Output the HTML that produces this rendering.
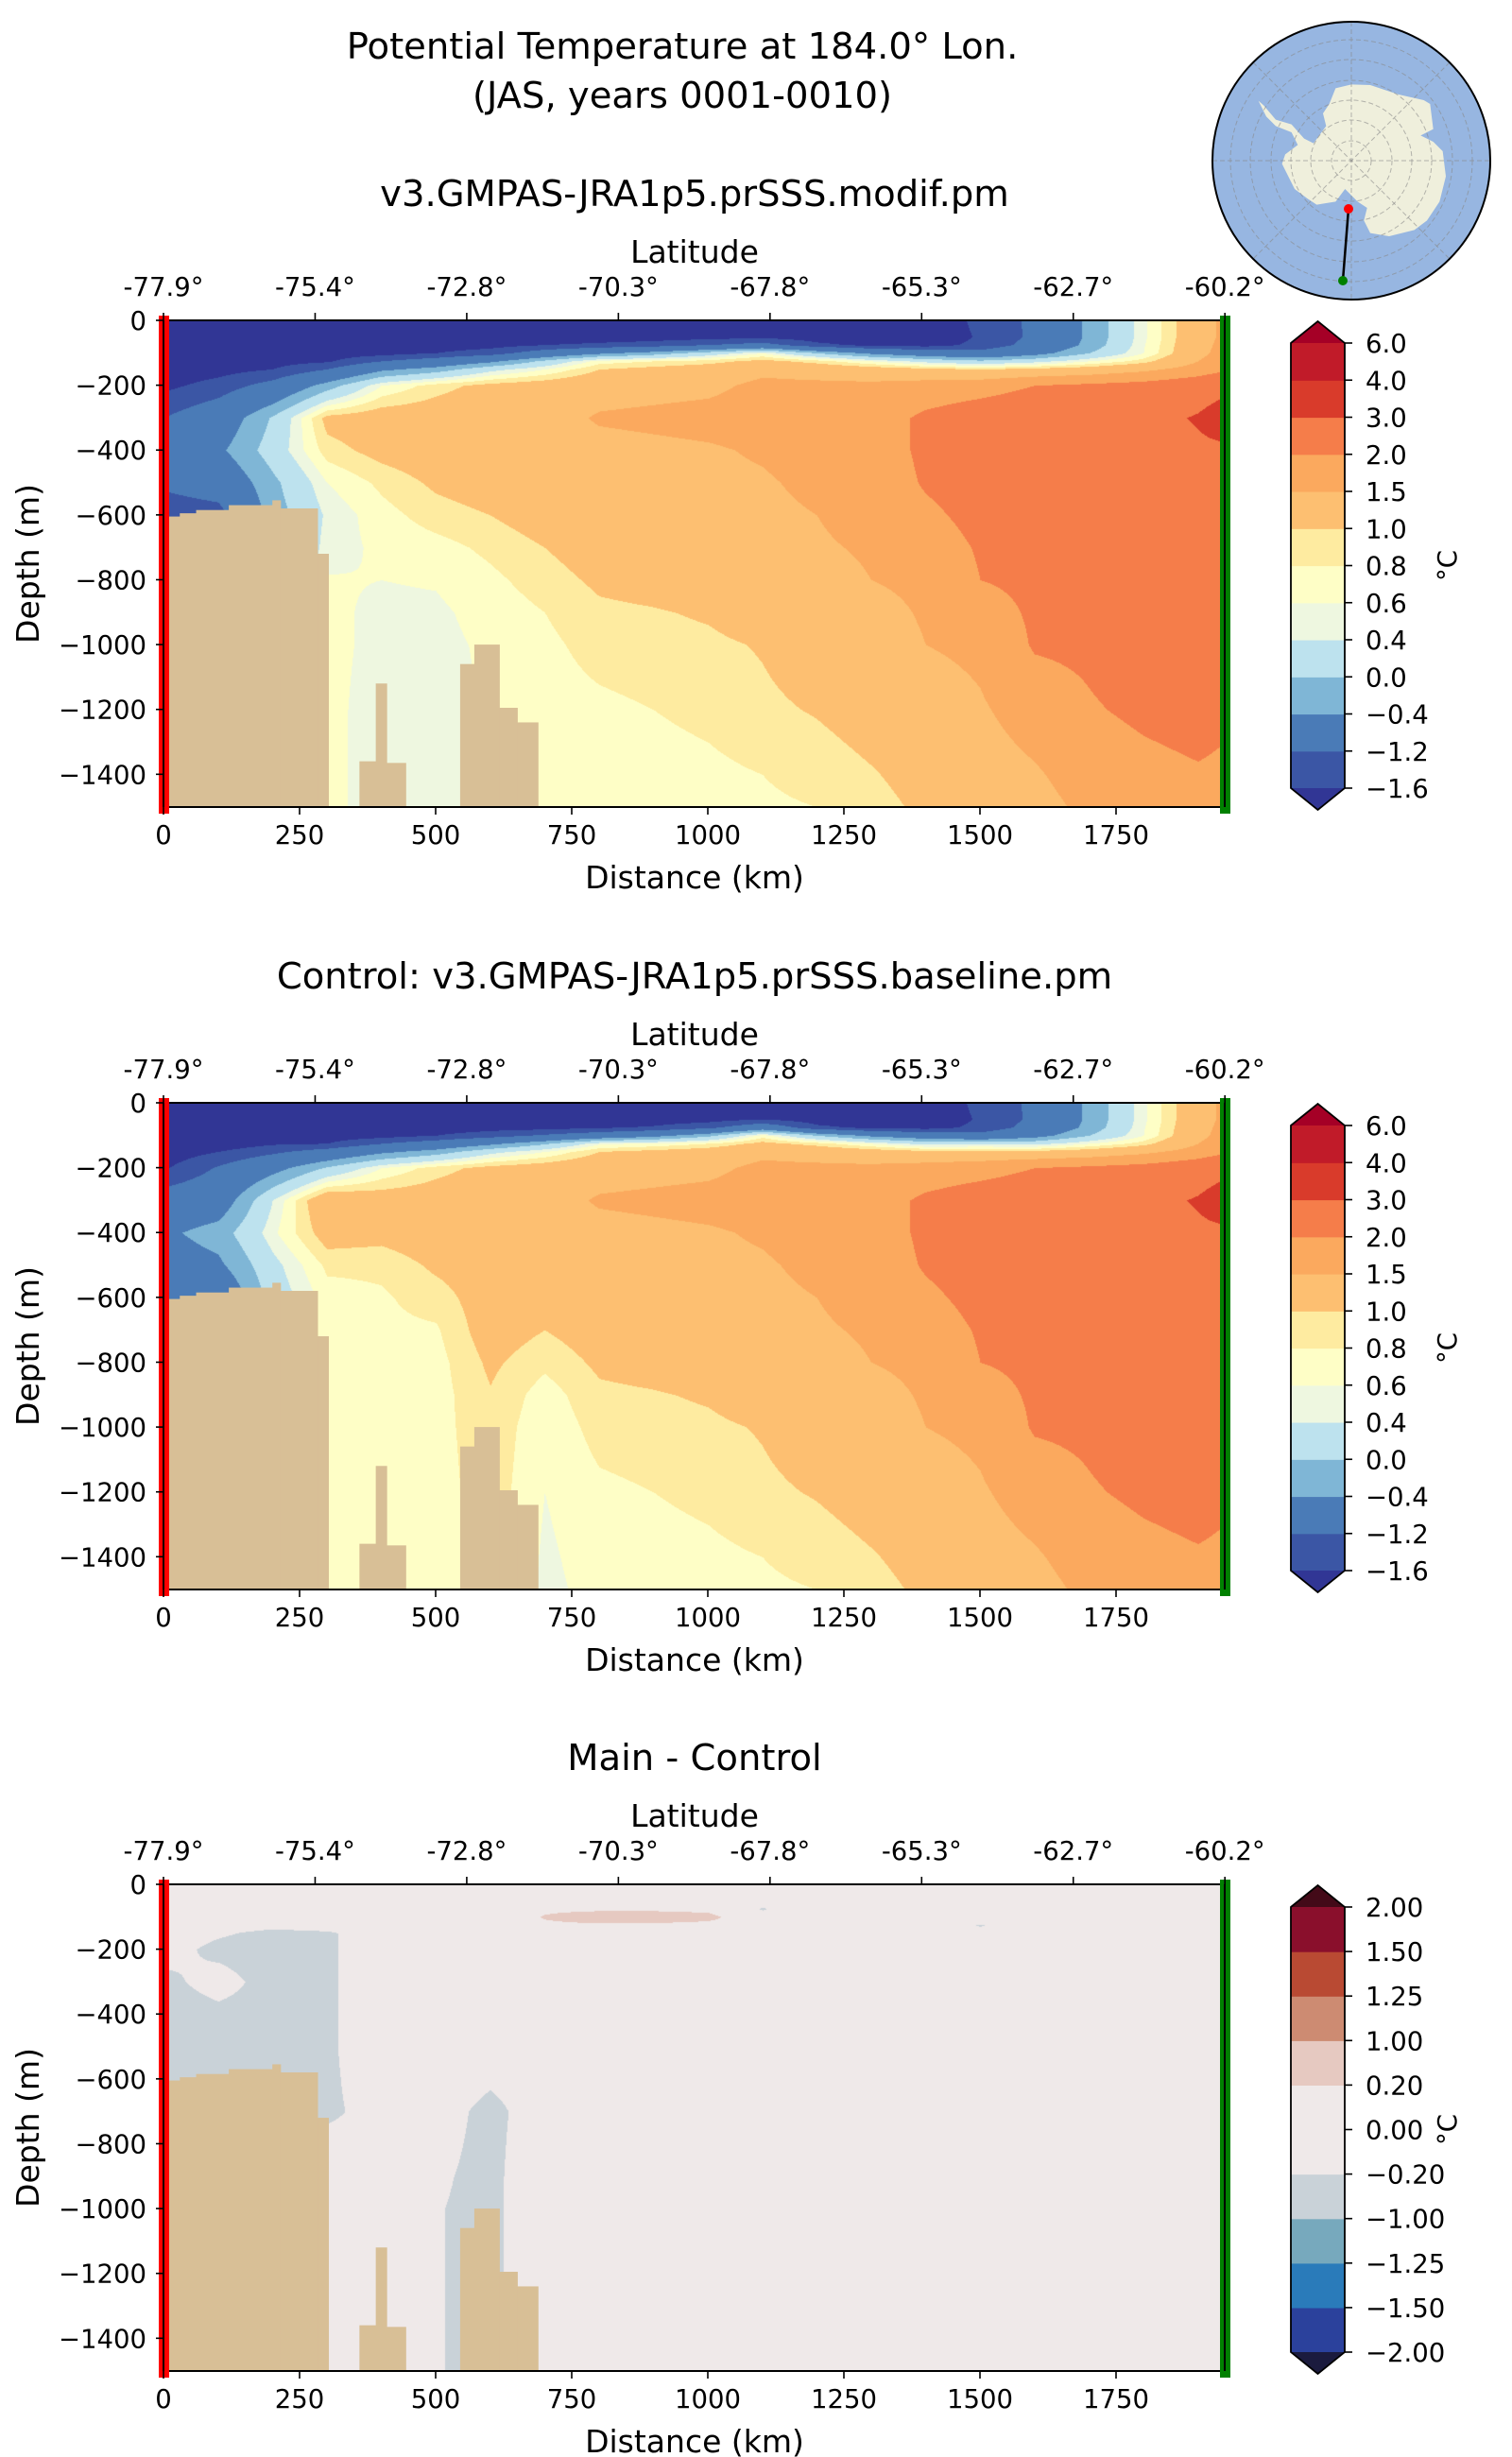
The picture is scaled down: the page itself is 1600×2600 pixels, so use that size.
<!DOCTYPE html>
<html><head><meta charset="utf-8"><title>Potential Temperature section</title>
<style>
html,body{margin:0;padding:0;background:#fff;}
body{width:1600px;height:2600px;position:relative;overflow:hidden;font-family:"DejaVu Sans","Liberation Sans",sans-serif;}
canvas{position:absolute;z-index:0;}
#fig{position:absolute;left:0;top:0;z-index:1;}
text{font-family:"DejaVu Sans","Liberation Sans",sans-serif;fill:#000;}
</style></head>
<body>
<svg id="fig" width="1600" height="2600" viewBox="0 0 1600 2600" xmlns="http://www.w3.org/2000/svg">
<text x="722" y="62" font-size="38.5" text-anchor="middle">Potential Temperature at 184.0° Lon.</text>
<text x="722" y="114" font-size="38.5" text-anchor="middle">(JAS, years 0001-0010)</text>
<g id="map"></g>
</svg>
<script>
// ---------------- data ----------------
const depthRows = [0,50,75,100,125,150,200,300,400,500,600,700,800,900,1000,1200,1400,1500];
const distCols = [0,100,200,300,400,500,600,700,800,900,1000,1100,1200,1300,1400,1500,1600,1700,1800,1900,1950];
const mainTemp = [
[-1.9,-1.9,-1.9,-1.9,-1.9,-1.85,-1.7,-1.2,-0.9,-1.1,-1.5,-1.5,-1.5,-1.5,-1.5,-1.5,-1.5,-1.5],
[-1.9,-1.9,-1.9,-1.9,-1.9,-1.75,-1.45,-0.8,-0.5,-0.9,-1.4,-1.4,-1.4,-1.4,-1.4,-1.4,-1.4,-1.4],
[-1.9,-1.9,-1.9,-1.85,-1.75,-1.6,-1.0,0.05,0.2,-0.1,-0.2,-0.2,-0.2,-0.2,-0.2,-0.2,-0.2,-0.2],
[-1.9,-1.9,-1.9,-1.8,-1.65,-1.2,-0.2,1.1,0.9,0.6,0.45,0.5,0.62,0.65,0.65,0.65,0.65,0.65],
[-1.9,-1.9,-1.85,-1.75,-1.2,-0.5,0.6,1.2,1.1,0.85,0.72,0.65,0.6,0.55,0.55,0.52,0.52,0.52],
[-1.9,-1.9,-1.8,-1.6,-0.9,-0.2,0.9,1.2,1.2,1.05,0.9,0.72,0.62,0.56,0.54,0.52,0.52,0.52],
[-1.9,-1.9,-1.75,-1.4,-0.5,0.3,1.1,1.25,1.25,1.15,1.0,0.85,0.75,0.68,0.64,0.62,0.62,0.62],
[-1.9,-1.9,-1.6,-0.9,0.1,0.6,1.2,1.3,1.3,1.25,1.15,1.0,0.9,0.8,0.75,0.7,0.66,0.64],
[-1.9,-1.85,-1.5,-0.5,0.7,1.0,1.3,1.55,1.35,1.3,1.25,1.15,1.05,0.95,0.88,0.75,0.7,0.68],
[-1.9,-1.8,-1.4,-0.2,0.8,1.1,1.35,1.6,1.4,1.35,1.3,1.2,1.1,0.98,0.92,0.8,0.72,0.7],
[-1.9,-1.75,-1.2,0.2,0.9,1.2,1.4,1.65,1.45,1.4,1.35,1.3,1.2,1.03,0.95,0.85,0.75,0.72],
[-1.9,-1.7,-1.0,0.6,1.1,1.4,1.6,1.7,1.55,1.45,1.4,1.35,1.25,1.15,1.02,0.95,0.8,0.76],
[-1.9,-1.8,-1.5,0.0,0.9,1.3,1.6,1.7,1.7,1.6,1.5,1.45,1.35,1.25,1.15,1.02,0.88,0.8],
[-1.9,-1.85,-1.7,-0.5,0.6,1.2,1.6,1.75,1.75,1.7,1.65,1.55,1.5,1.35,1.25,1.12,0.98,0.92],
[-1.9,-1.9,-1.75,-0.8,0.3,1.1,1.7,2.1,2.1,2.05,1.9,1.75,1.6,1.55,1.5,1.25,1.1,1.05],
[-1.5,-1.55,-1.5,-1.0,0.1,1.0,1.8,2.3,2.3,2.25,2.15,2.05,2.0,1.8,1.6,1.45,1.3,1.2],
[-1.1,-1.1,-1.0,-0.6,0.3,1.1,2.0,2.4,2.4,2.35,2.3,2.2,2.1,2.07,2.05,1.7,1.45,1.35],
[-0.3,-0.3,-0.25,0.0,0.6,1.2,2.1,2.5,2.5,2.45,2.4,2.35,2.3,2.2,2.1,1.95,1.7,1.6],
[0.55,0.55,0.58,0.6,0.9,1.4,2.2,2.6,2.6,2.55,2.5,2.45,2.4,2.35,2.3,2.1,1.85,1.75],
[1.3,1.3,1.32,1.35,1.5,1.7,2.4,3.1,2.8,2.7,2.6,2.55,2.5,2.45,2.4,2.2,1.95,1.85],
[1.6,1.6,1.65,1.7,1.8,1.9,2.7,3.6,2.8,2.8,2.7,2.6,2.55,2.5,2.45,2.1,1.9,1.8]
];
// main minus control
const diffTemp = [
[0,0,0,0,0,0,-0.05,-0.3,-0.4,-0.4,-0.4,-0.3,-0.3,-0.3,-0.3,-0.3,-0.3,-0.3],
[0,0,0,0,-0.05,-0.15,-0.3,-0.05,-0.3,-0.4,-0.4,-0.3,-0.3,-0.3,-0.3,-0.3,-0.3,-0.3],
[0,0,0,0,-0.1,-0.3,-0.4,-0.35,-0.35,-0.4,-0.4,-0.3,-0.3,-0.3,-0.3,-0.3,-0.3,-0.3],
[0,0,0,0,-0.05,-0.25,-0.25,-0.25,-0.25,-0.25,-0.25,-0.25,-0.12,-0.12,-0.12,-0.12,-0.12,-0.12],
[0,0,0,0,0,0,0,0,0,0,-0.05,-0.1,-0.12,-0.12,-0.12,-0.12,-0.12,-0.12],
[0,0,0,0,0,0,0,0,0,0,0,-0.05,-0.1,-0.15,-0.18,-0.18,-0.18,-0.18],
[0,0,0,0,0,0,0,0,0,0,-0.15,-0.3,-0.3,-0.3,-0.3,-0.3,-0.3,-0.3],
[0,0,0.15,0.22,0.15,0,0,0,0,0,0,0,0.05,0.1,0.1,0.1,0.1,0.1],
[0,0,0.15,0.35,0.15,0,0,0,0,0,0,0,0,0,0,0,0,0],
[0,0,0.15,0.35,0.15,0,0,0,0,0,0,0,0,0,0,0,0,0],
[0,0,0.12,0.3,0.1,0,0,0,0,0,0,0,0,0,0,0,0,0],
[0,-0.1,-0.22,-0.1,0,0,0,0,0,0,0,0,0,0,0,0,0,0],
[0,0,0,0,0,0,0,0,0,0,0,0,0,0,0,0,0,0],
[0,0,0,0,0,0,0,0,0,0,0,0,0,0,0,0,0,0],
[0,0,0,0,0,0,0,0,0,0,0,0,0,0,0,0,0,0],
[0,0,0,0,-0.22,-0.1,0,0,0,0,0,0,0,0,0,0,0,0],
[0,0,0,0,0,0,0,0,0,0,0,0,0,0,0,0,0,0],
[0,0,0,0,0,0,0,0,0,0,0,0,0,0,0,0,0,0],
[0,0,0,0,0,0,0,0,0,0,0,0,0,0,0,0,0,0],
[0,0,0,0,0,0,0,0,0,0,0,0,0,0,0,0,0,0],
[0,0,0,0,0,0,0,0,0,0,0,0,0,0,0,0,0,0]
];
const landStart = [0,30,60,120,200,215,283,360,390,410,545,571,617,650];
const landEnd   = [30,60,120,200,215,283,303,390,410,445,571,617,650,688];
const landTop   = [605,595,585,570,555,580,720,1360,1120,1365,1060,1000,1195,1240];
const tempLevels = [-1.6,-1.2,-0.4,0,0.4,0.6,0.8,1.0,1.5,2.0,3.0,4.0,6.0];
const tempLabels = ['\u22121.6','\u22121.2','\u22120.4','0.0','0.4','0.6','0.8','1.0','1.5','2.0','3.0','4.0','6.0'];
const diffLevels = [-2,-1.5,-1.25,-1,-0.2,0,0.2,1,1.25,1.5,2];
const diffLabels = ['\u22122.00','\u22121.50','\u22121.25','\u22121.00','\u22120.20','0.00','0.20','1.00','1.25','1.50','2.00'];
const distTicks = [0,250,500,750,1000,1250,1500,1750];
const depthTicks = [0,200,400,600,800,1000,1200,1400];
const latLabels = ['-77.9°','-75.4°','-72.8°','-70.3°','-67.8°','-65.3°','-62.7°','-60.2°'];

// colours (styles, not data)
const tempColors = ['#313695','#3b56a5','#4a7bb7','#7fb6d6','#bde2ee','#eef7e0','#fefec6','#feeba0','#fdbf71','#fba95e','#f57d4a','#d93b2b','#c11b29','#a50026'];
const diffColors = ['#1b1b3e','#2b419c','#2a7bba','#77a9bd','#c9d2d8','#efe9e9','#efe9e9','#e6c9c1','#cd8b72','#b94a33','#8a0f2c','#430a18'];
const LAND = '#d8bf96';

// ---------------- geometry ----------------
const X0 = 173, PXKM = 0.576, MAXKM = 1950, PXM = 0.3431, DMAX = 1500;
const xScale = km => X0 + km * PXKM;
const PW = Math.round(MAXKM * PXKM), PH = Math.round(DMAX * PXM);
const NS = 'http://www.w3.org/2000/svg';
const svg = document.getElementById('fig');
function mk(tag, attrs, parent){ const el=document.createElementNS(NS,tag); for(const k in attrs) el.setAttribute(k,attrs[k]); (parent||svg).appendChild(el); return el; }

function findIdx(arr, v){ let i=0; while(i<arr.length-2 && v>arr[i+1]) i++; return i; }
function sample(grid, km, d){
  const i=findIdx(distCols,km), j=findIdx(depthRows,d);
  let tx=(km-distCols[i])/(distCols[i+1]-distCols[i]); tx=Math.max(0,Math.min(1,tx));
  let ty=(d-depthRows[j])/(depthRows[j+1]-depthRows[j]); ty=Math.max(0,Math.min(1,ty));
  const a=grid[i][j],b=grid[i+1][j],c=grid[i][j+1],e=grid[i+1][j+1];
  return (a*(1-tx)+b*tx)*(1-ty)+(c*(1-tx)+e*tx)*ty;
}
function hex(c){ return [parseInt(c.substr(1,2),16),parseInt(c.substr(3,2),16),parseInt(c.substr(5,2),16)]; }

const controlTemp = mainTemp.map((col,i)=>col.map((v,j)=>v - diffTemp[i][j]));

const panels = [
 {off:0, title:'v3.GMPAS-JRA1p5.prSSS.modif.pm', grid:mainTemp, levels:tempLevels, colors:tempColors, labels:tempLabels, key:'main'},
 {off:828, title:'Control: v3.GMPAS-JRA1p5.prSSS.baseline.pm', grid:controlTemp, levels:tempLevels, colors:tempColors, labels:tempLabels, key:'control'},
 {off:1655, title:'Main - Control', grid:diffTemp, levels:diffLevels, colors:diffColors, labels:diffLabels, key:'difference'}
];

panels.forEach(p=>{
  const top = 339 + p.off;
  const yScale = d => top + d * PXM;
  const cv = document.createElement('canvas');
  cv.width = PW; cv.height = PH;
  cv.style.left = X0+'px'; cv.style.top = top+'px';
  
  
  document.body.appendChild(cv);
  const ctx = cv.getContext('2d'); const img = ctx.createImageData(PW,PH);
  const rgb = p.colors.map(hex);
  for(let py=0;py<PH;py++){
    const d = py/PXM;
    for(let px=0;px<PW;px++){
      const v = sample(p.grid, px/PXKM, d);
      let k;
      if(v<p.levels[0]) k=0; else { k=p.levels.length; for(let q=0;q<p.levels.length-1;q++){ if(v<p.levels[q+1]){k=q+1;break;} } }
      const c = rgb[k]; const o=(py*PW+px)*4;
      img.data[o]=c[0]; img.data[o+1]=c[1]; img.data[o+2]=c[2]; img.data[o+3]=255;
    }
  }
  ctx.putImageData(img,0,0);

  const g = mk('g',{});
  
  
  for(let s=0;s<landStart.length;s++){
    const r = mk('rect',{x:xScale(landStart[s]),y:yScale(landTop[s]),width:(landEnd[s]-landStart[s])*PXKM+0.5,height:yScale(DMAX)-yScale(landTop[s]),fill:LAND},g);
    
    
  }
  const fr = mk('rect',{x:X0,y:top,width:PW,height:PH,fill:'none',stroke:'#000','stroke-width':2},g);
  
  
  const rb = mk('rect',{x:168,y:top-5,width:11,height:PH+12,fill:'#ff0000'},g);
  
  
  mk('line',{x1:X0,y1:top,x2:X0,y2:top+PH,stroke:'#000','stroke-width':2},g);
  const gb = mk('rect',{x:1291,y:top-5,width:11,height:PH+12,fill:'#008000'},g);
  
  
  mk('line',{x1:X0+PW,y1:top,x2:X0+PW,y2:top+PH,stroke:'#000','stroke-width':2},g);
  distTicks.forEach(t=>{
    mk('line',{x1:xScale(t),y1:top+PH,x2:xScale(t),y2:top+PH+8,stroke:'#000','stroke-width':1.6},g);
    const tx = mk('text',{x:xScale(t),y:top+PH+39,'font-size':27.5,'text-anchor':'middle'},g);
    tx.textContent = String(t);
    
    
  });
  const xl = mk('text',{x:735,y:top+PH+86,'font-size':33,'text-anchor':'middle'},g);
  xl.textContent='Distance (km)';
  
  
  depthTicks.forEach(t=>{
    mk('line',{x1:X0-8,y1:yScale(t),x2:X0,y2:yScale(t),stroke:'#000','stroke-width':1.6},g);
    const ty = mk('text',{x:155,y:yScale(t)+10,'font-size':27.5,'text-anchor':'end'},g);
    ty.textContent = t===0 ? '0' : '\u2212'+t;
    
    
  });
  const yl = mk('text',{x:0,y:0,'font-size':33,'text-anchor':'middle',transform:`translate(41,${top+PH/2}) rotate(-90)`},g);
  yl.textContent='Depth (m)';
  
  
  latLabels.forEach((lab,i)=>{
    const x = xScale(MAXKM*i/(latLabels.length-1));
    mk('line',{x1:x,y1:top-8,x2:x,y2:top,stroke:'#000','stroke-width':1.6},g);
    const lt = mk('text',{x:x,y:top-26,'font-size':27.5,'text-anchor':'middle'},g);
    lt.textContent = lab;
    
    
  });
  const la = mk('text',{x:735,y:top-61,'font-size':33,'text-anchor':'middle'},g);
  la.textContent='Latitude';
  
  
  const ti = mk('text',{x:735,y:top-121,'font-size':38.5,'text-anchor':'middle'},g);
  ti.textContent=p.title;
  
  
  const cbx=1366, cbw=57, cbTop=363+p.off, cbBot=834+p.off, tip=23;
  const n = p.levels.length-1, seg=(cbBot-cbTop)/n;
  const cb = mk('g',{},g);
  
  
  for(let k=0;k<n;k++){
    const r = mk('rect',{x:cbx,y:cbBot-(k+1)*seg,width:cbw,height:seg+0.6,fill:p.colors[k+1]},cb);
    
    
  }
  mk('polygon',{points:`${cbx},${cbTop} ${cbx+cbw/2},${cbTop-tip} ${cbx+cbw},${cbTop}`,fill:p.colors[p.colors.length-1]},cb);
  mk('polygon',{points:`${cbx},${cbBot} ${cbx+cbw/2},${cbBot+tip} ${cbx+cbw},${cbBot}`,fill:p.colors[0]},cb);
  mk('polygon',{points:`${cbx},${cbTop} ${cbx+cbw/2},${cbTop-tip} ${cbx+cbw},${cbTop} ${cbx+cbw},${cbBot} ${cbx+cbw/2},${cbBot+tip} ${cbx},${cbBot}`,fill:'none',stroke:'#000','stroke-width':1.8},cb);
  p.labels.forEach((lab,k)=>{
    const y = cbBot-k*seg;
    mk('line',{x1:cbx+cbw,y1:y,x2:cbx+cbw+8,y2:y,stroke:'#000','stroke-width':1.6},cb);
    const t = mk('text',{x:1445,y:y+10,'font-size':27.5},cb);
    t.textContent = lab;
    
    
  });
  const u = mk('text',{x:0,y:0,'font-size':27.5,'text-anchor':'middle',transform:`translate(1541,${(cbTop+cbBot)/2}) rotate(-90)`},cb);
  u.textContent='°C';
  
  
});

// ---------------- location map ----------------
(function(){
  const m = document.getElementById('map');
  const cx=1430, cy=170, R=147;
  mk('circle',{cx:cx,cy:cy,r:R,fill:'#97b6e1'},m);
  const pts=[[490,280],[540,268],[600,270],[690,300],[770,318],[790,330],[800,410],[760,430],[800,450],[830,480],[840,560],[820,640],[780,700],[740,730],[660,750],[600,740],[580,700],[590,660],[560,640],[520,600],[490,640],[430,650],[400,630],[360,600],[320,520],[330,490],[370,460],[350,420],[300,400],[270,370],[245,320],[262,335],[300,380],[350,395],[390,440],[420,455],[460,400],[450,360],[470,330]];
  const ant = mk('polygon',{points:pts.map(q=>`${1250+q[0]/3},${q[1]/3}`).join(' '),fill:'#efefdc'},m);
  
  
  [21,43,64,85,107,128].forEach(r=>mk('circle',{cx:cx,cy:cy,r:r,fill:'none',stroke:'#888','stroke-opacity':0.6,'stroke-width':1,'stroke-dasharray':'5,3'},m));
  for(let a=0;a<180;a+=45){ const rad=a*Math.PI/180; mk('line',{x1:cx-R*Math.cos(rad),y1:cy-R*Math.sin(rad),x2:cx+R*Math.cos(rad),y2:cy+R*Math.sin(rad),stroke:'#888','stroke-opacity':0.6,'stroke-width':1,'stroke-dasharray':'5,3'},m); }
  mk('circle',{cx:cx,cy:cy,r:R,fill:'none',stroke:'#000','stroke-width':2},m);
  const tr = mk('line',{x1:1427,y1:221,x2:1421,y2:297,stroke:'#000','stroke-width':2.5},m);
  
  
  const s = mk('circle',{cx:1427,cy:221,r:5,fill:'#ff0000'},m);
  
  
  const e = mk('circle',{cx:1421,cy:297,r:5,fill:'#008000'},m);
  
  
})();
</script>
</body></html>
